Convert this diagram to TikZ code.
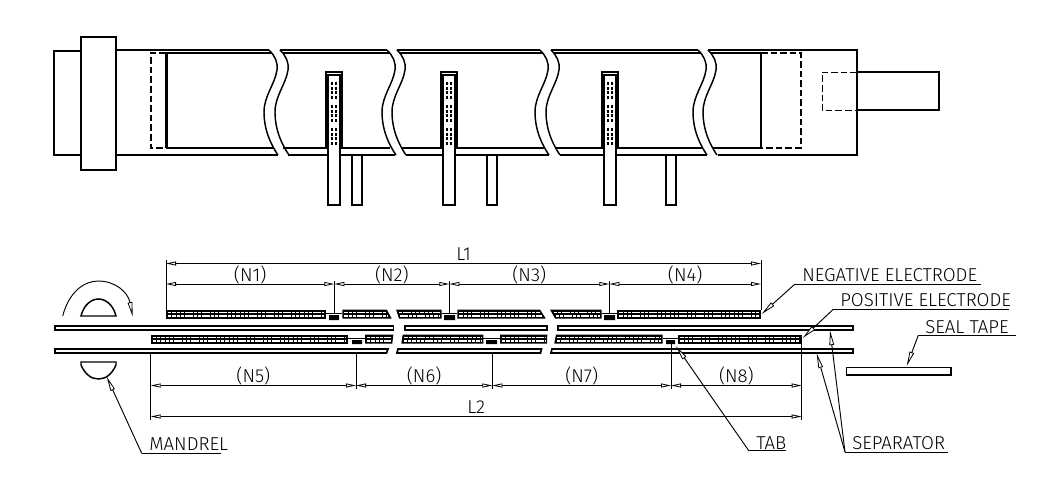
\documentclass[tikz,border=0pt]{standalone}
\usepackage{fontspec}
\usetikzlibrary{arrows.meta}
\newfontfamily\cadfont{Fira Sans Light}

% wavy cut of the tube, #1 is x at the top line
\newcommand{\cutwave}[1]{
    \draw[midline] (#1,50) .. controls (#1+6,56) and (#1+9,62) .. (#1+8,70)
        .. controls (#1+6,84) and (#1-5,96) .. (#1-5,112)
        .. controls (#1-5,130) and (#1+2,145) .. (#1+9,155);
}
% tab with its welding spots, #1 is the middle of the tab
\newcommand{\foiltab}[1]{
    \draw[tabwall,fill=white] (#1-8.3,148) -- (#1-8.3,71.7) -- (#1+8.3,71.7) -- (#1+8.3,148);
    \draw[tabwall,fill=white] (#1-5.7,74.7) rectangle (#1+5.7,205);
    \foreach \dx in {-2.1,2.1}
        \foreach \ys in {82,105,128}
            \draw[tabdots] (#1+\dx,\ys) -- (#1+\dx,\ys+17);
}
% electrode piece: y, then top left, bottom left, top right, bottom right
\newcommand{\foilseg}[5]{
    \fill (#2,#1) -- (#4,#1) -- (#5,#1+9) -- (#3,#1+9) -- cycle;
    \draw[foildots] (#2*.7+#3*.3+2,#1+2.8) -- (#4*.7+#5*.3-2,#1+2.8);
    \draw[foildots] (#2*.3+#3*.7+2,#1+6.4) -- (#4*.3+#5*.7-2,#1+6.4);
}

\begin{document}
\begin{tikzpicture}[x=0.75pt,y=-0.75pt]
    \tikzstyle{heavy} = [line width=1.6pt]
    \tikzstyle{tabwall} = [line width=1.3pt]
    \tikzstyle{midline} = [line width=1.1pt]
    \tikzstyle{hidden} = [line width=1.3pt,dash pattern=on 5pt off 2.2pt]
    \tikzstyle{hiddenthin} = [line width=0.7pt,dash pattern=on 5pt off 2.2pt]
    \tikzstyle{thinline} = [line width=0.7pt]
    \tikzstyle{tabdots} = [line width=1.9pt,dash pattern=on 2.25pt off 1.3pt]
    \tikzstyle{foildots} = [line width=0.9pt,white,dash pattern=on 2.6pt off 0.6pt]
    \tikzstyle{dimline} = [line width=0.7pt,{Triangle[length=7.5pt,width=3pt,fill=white,line width=0.6pt]}-{Triangle[length=7.5pt,width=3pt,fill=white,line width=0.6pt]}]
    \tikzstyle{leader} = [line width=0.7pt,-{Triangle[length=11pt,width=3.5pt,fill=white,line width=0.6pt]}]
    \tikzstyle{dimtext} = [font=\cadfont\fontsize{14}{14}\selectfont,midway,above,inner sep=0pt,yshift=1.8pt,text height=10pt,text depth=0pt]
    \tikzstyle{cadtext} = [font=\cadfont\fontsize{14}{14}\selectfont,anchor=base west,inner sep=0pt]

    \useasboundingbox (0,0) rectangle (1063,493);

    % tube seen from the top
    \draw[heavy] (81,51) -- (54,51) -- (54,155) -- (81,155);
    \draw[heavy,fill=white] (81,37) rectangle (116,170);
    \draw[heavy] (116,50) -- (269,50) (280,50) -- (387,50) (397,50) -- (540,50) (551,50) -- (698,50) (708,50) -- (857,50) -- (857,155) -- (718,155);
    \draw[heavy] (707,155) -- (560,155) (549,155) -- (406,155) (395,155) -- (288,155) (278,155) -- (116,155);
    \draw[heavy] (166,53) -- (272,53) (283,53) -- (390,53) (400,53) -- (543,53) (554,53) -- (701,53) (711,53) -- (761,53);
    \draw[heavy] (166,148) -- (273,148) (283,148) -- (390,148) (401,148) -- (544,148) (555,148) -- (702,148) (713,148) -- (761,148);
    \draw[heavy] (166.5,53) -- (166.5,148);
    \draw[midline] (761,53) -- (761,148);
    \draw[hidden] (166,53) -- (151,53) -- (151,148) -- (166,148);
    \draw[hidden] (761,53) -- (801,53) -- (801,148) -- (761,148);
    \draw[hiddenthin] (857,72) -- (822,72) -- (822,110) -- (857,110);
    \draw[heavy] (857,72) -- (939,72) -- (939,110) -- (857,110);

    \cutwave{269}
    \cutwave{280}
    \cutwave{387}
    \cutwave{397}
    \cutwave{540}
    \cutwave{551}
    \cutwave{698}
    \cutwave{708}

    \foiltab{334}
    \foiltab{449}
    \foiltab{610}
    \draw[midline,fill=white] (352,155) rectangle (362,205);
    \draw[midline,fill=white] (487,155) rectangle (497,205);
    \draw[midline,fill=white] (666,155) rectangle (676,205);

    % wound layers
    \draw[tabwall] (55,326) rectangle (393.5,330);
    \draw[tabwall] (405,326) rectangle (547,330);
    \draw[tabwall] (558,326) rectangle (853,330);
    \draw[tabwall] (55,349) -- (388,349) -- (386.5,353) -- (55,353) -- cycle;
    \draw[tabwall] (398,349) -- (541.5,349) -- (540.5,353) -- (397,353) -- cycle;
    \draw[tabwall] (552,349) -- (853,349) -- (853,353) -- (551,353) -- cycle;

    \foreach \xa/\xb/\xc/\xd in {166/166/325.7/325.7,342.3/342.3/386.7/391.7,396/399/441.7/441.7,457.3/457.3/540/545.7,550/555/601.7/601.7,617.3/617.3/761/761}
        {\foilseg{309.5}{\xa}{\xb}{\xc}{\xd}}
    \foreach \xa/\xb/\xc/\xd in {150.7/150.7/348.3/348.3,365/365/393.3/392.3,402.7/401.3/483.3/483.3,500/500/547.3/547,556/554.3/662.7/662.7,678.3/678.3/801.7/801.7}
        {\foilseg{334.5}{\xa}{\xb}{\xc}{\xd}}

    \fill (329,315) rectangle (339,320) (444,315) rectangle (455,320) (604,315) rectangle (615,320);
    \fill (352,340) rectangle (362,344) (486,340) rectangle (497,344) (666,340) rectangle (675,344);
    \draw[thinline] (325.7,313) -- (342.3,313) (441.7,313) -- (457.3,313) (601.7,313) -- (617.3,313);
    \draw[thinline] (348.3,338) -- (365,338) (483.3,338) -- (500,338) (662.7,338) -- (678.3,338);

    \draw[tabwall] (846.5,367.5) rectangle (951,375);

    % mandrel and its rotation
    \draw[midline] (81,316) .. controls (84,304) and (92,299) .. (98.5,299) .. controls (105,299) and (113,304) .. (116,316) -- cycle;
    \draw[midline] (81,362) -- (116,362) -- (116,365) .. controls (112,374) and (106,379) .. (98.5,379) .. controls (91,379) and (85,374) .. (81,365) -- cycle;
    \coordinate (turn0) at (62.7,316);
    \coordinate (turn1) at (132.7,316.7);
    \draw[leader] (turn0) .. controls (69,292) and (84,281) .. (98.3,281) .. controls (115,281) and (128,292) .. (turn1);

    % dimensions above
    \coordinate (up0) at (166,284);
    \coordinate (up1) at (334.3,284);
    \coordinate (up2) at (449.3,284);
    \coordinate (up3) at (609.3,284);
    \coordinate (up4) at (761,284);
    \coordinate (upa) at (166,263.5);
    \coordinate (upb) at (761,263.5);
    \draw[thinline] (166,260) -- (166,309.5) (761,260) -- (761,309.5);
    \draw[thinline] (334.3,281) -- (334.3,313) (449.3,281) -- (449.3,313) (609.3,281) -- (609.3,313);
    \draw[dimline] (upa) -- node[dimtext] (l1) {L1} (upb);
    \draw[dimline] (up0) -- node[dimtext] (n1) {(N1)} (up1);
    \draw[dimline] (up1) -- node[dimtext] (n2) {(N2)} (up2);
    \draw[dimline] (up2) -- node[dimtext] (n3) {(N3)} (up3);
    \draw[dimline] (up3) -- node[dimtext] (n4) {(N4)} (up4);

    % dimensions below
    \coordinate (lo0) at (150.7,385.5);
    \coordinate (lo1) at (356,385.5);
    \coordinate (lo2) at (492.3,385.5);
    \coordinate (lo3) at (671,385.5);
    \coordinate (lo4) at (801.7,385.5);
    \coordinate (loa) at (150.7,416.5);
    \coordinate (lob) at (801.7,416.5);
    \draw[thinline] (150.7,353) -- (150.7,419.5) (801.7,344) -- (801.7,419.5);
    \draw[thinline] (356,353) -- (356,388.5) (492.3,353) -- (492.3,388.5) (671,344) -- (671,388.5);
    \draw[dimline] (lo0) -- node[dimtext] (n5) {(N5)} (lo1);
    \draw[dimline] (lo1) -- node[dimtext] (n6) {(N6)} (lo2);
    \draw[dimline] (lo2) -- node[dimtext] (n7) {(N7)} (lo3);
    \draw[dimline] (lo3) -- node[dimtext] (n8) {(N8)} (lo4);
    \draw[dimline] (loa) -- node[dimtext] (l2) {L2} (lob);

    % callouts
    \node[cadtext] (negel) at (802,281) {NEGATIVE ELECTRODE};
    \node[cadtext] (posel) at (840,306) {POSITIVE ELECTRODE};
    \node[cadtext] (sealtp) at (925,333) {SEAL TAPE};
    \node[cadtext] (separ) at (852,449) {SEPARATOR};
    \node[cadtext] (tabel) at (756,449) {TAB};
    \node[cadtext] (mandr) at (149,450) {MANDREL};

    \coordinate (neg0) at (795,284);
    \coordinate (pos0) at (833.3,309.3);
    \coordinate (seal0) at (918.3,335.3);
    \coordinate (sep0) at (845,452);
    \coordinate (tab0) at (748.3,450);
    \coordinate (man0) at (141.7,453.3);
    \draw[thinline] (neg0) -- (980.7,284);
    \draw[thinline] (pos0) -- (1008.7,309.3);
    \draw[thinline] (seal0) -- (1016,335.3);
    \draw[thinline] (sep0) -- (948,452);
    \draw[thinline] (tab0) -- (786,450);
    \draw[thinline] (man0) -- (220.7,453.3);

    \coordinate (negtip) at (761.7,314);
    \coordinate (postip) at (802.7,338);
    \coordinate (sealtip) at (906.7,366);
    \coordinate (septipa) at (830,330.5);
    \coordinate (septipb) at (816.7,353.5);
    \coordinate (tabtip) at (676,346);
    \coordinate (mantip) at (106.7,376.7);
    \draw[leader] (neg0) -- (negtip);
    \draw[leader] (pos0) -- (postip);
    \draw[leader] (seal0) -- (sealtip);
    \draw[leader] (sep0) -- (septipa);
    \draw[leader] (sep0) -- (septipb);
    \draw[leader] (tab0) -- (tabtip);
    \draw[leader] (man0) -- (mantip);
\end{tikzpicture}
\end{document}
